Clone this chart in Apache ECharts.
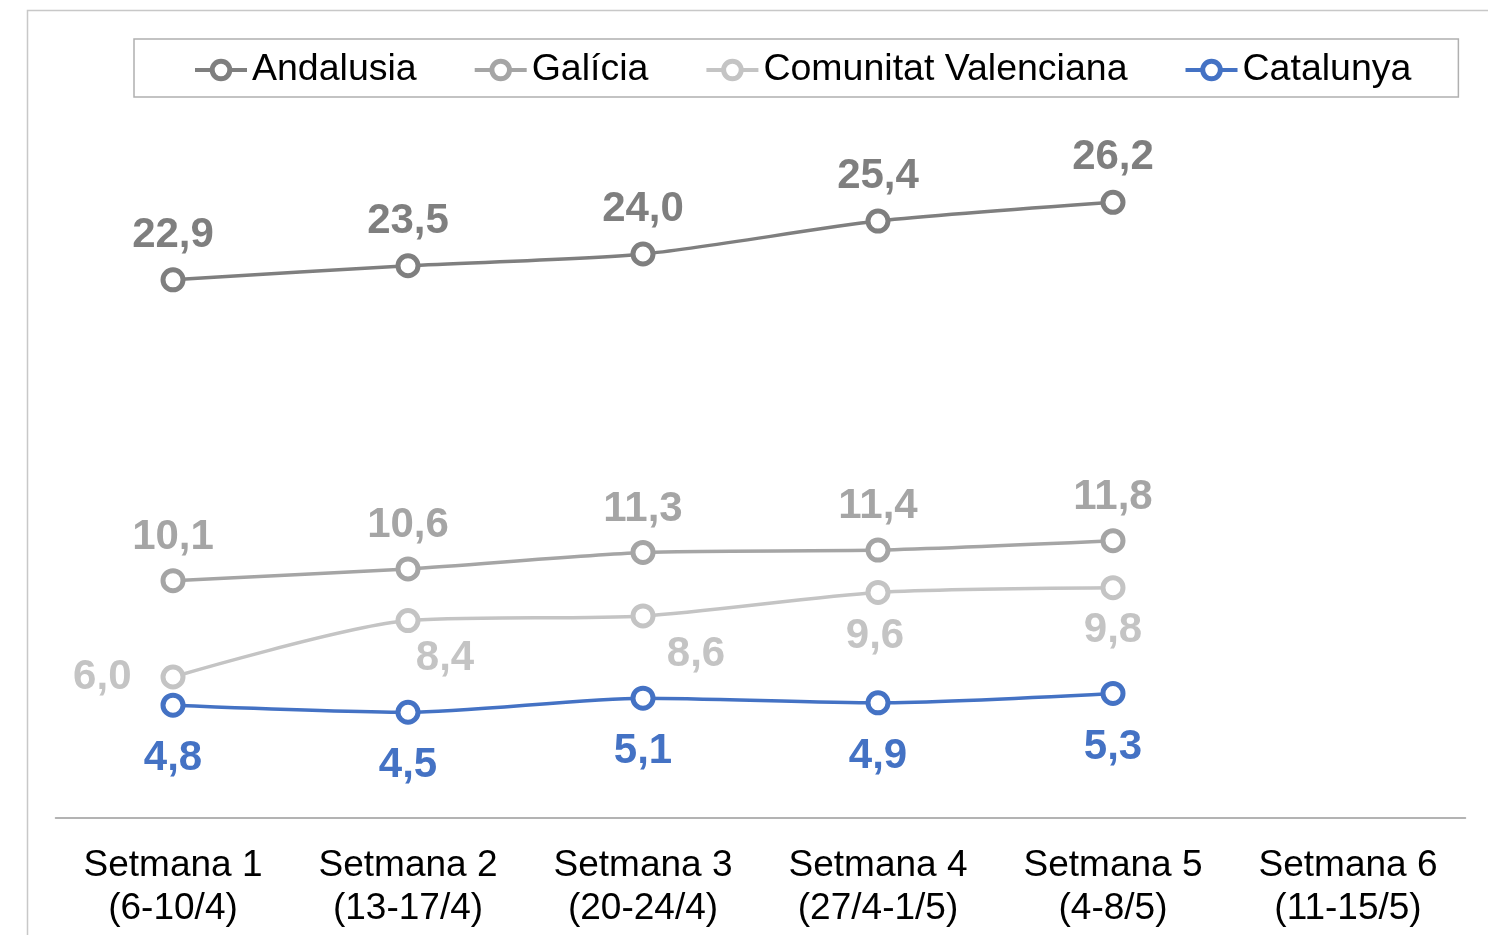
<!DOCTYPE html>
<html><head><meta charset="utf-8">
<script src="https://cdn.jsdelivr.net/npm/echarts@6/dist/echarts.min.js"></script>
<style>html,body{margin:0;padding:0;background:#fff}#c{width:1488px;height:935px}</style>
</head><body><div id="c"></div>
<script>
const categories = ['Setmana 1\n(6-10/4)','Setmana 2\n(13-17/4)','Setmana 3\n(20-24/4)','Setmana 4\n(27/4-1/5)','Setmana 5\n(4-8/5)','Setmana 6\n(11-15/5)'];
const andalusia = [22.9, 23.5, 24.0, 25.4, 26.2, null];
const galicia = [10.1, 10.6, 11.3, 11.4, 11.8, null];
const valenciana = [6.0, 8.4, 8.6, 9.6, 9.8, null];
const catalunya = [4.8, 4.5, 5.1, 4.9, 5.3, null];

const FONT = 'Liberation Sans, Arial, sans-serif';
const fmt = p => p.value == null ? '' : p.value.toFixed(1).replace('.', ',');
function mk(name, data, color, labelColor, pos, dist) {
  return {
    name, type: 'line', data, smooth: 0.25, connectNulls: false,
    symbol: 'circle', symbolSize: 20,
    lineStyle: {color, width: 3.5},
    itemStyle: {color: '#ffffff', borderColor: color, borderWidth: 5},
    label: {show: true, position: pos, distance: dist, formatter: fmt,
      color: labelColor, fontFamily: FONT, fontWeight: 'bold', fontSize: 42, lineHeight: 42},
    emphasis: {disabled: true}
  };
}
const sVal = mk('Comunitat Valenciana', valenciana.map((v, i) => {
  const lab = [
    {position: 'left', distance: 29},
    {position: 'bottom', distance: 4, offset: [37, 0]},
    {position: 'bottom', distance: 5, offset: [53, 0]},
    {position: 'bottom', distance: 11, offset: [-3, 0]},
    {position: 'bottom', distance: 9, offset: [0, 0]},
    {}
  ][i];
  return {value: v, label: lab};
}), '#c4c4c4', '#c4c4c4', 'bottom', 6);

const option = {
  animation: false,
  backgroundColor: '#fff',
  graphic: [{type: 'rect', shape: {x: 27.5, y: 10.5, width: 1600, height: 1000},
    style: {fill: 'none', stroke: '#c8c8c8', lineWidth: 1.5}, silent: true}],
  legend: {
    left: 134, top: 39, padding: [12, 47, 8, 59],
    borderColor: '#b0b0b0', borderWidth: 1.5,
    itemWidth: 52, itemHeight: 22, itemGap: 56,
    itemStyle: {borderWidth: 5},
    lineStyle: {width: 4},
    textStyle: {fontFamily: FONT, fontSize: 37.5, lineHeight: 36, color: '#000'},
    data: ['Andalusia', 'Galícia', 'Comunitat Valenciana', 'Catalunya']
  },
  grid: {left: 55.5, right: 22.5, top: 113, bottom: 117, containLabel: false},
  xAxis: {
    type: 'category', data: categories, boundaryGap: true,
    axisLine: {lineStyle: {color: '#9a9a9a', width: 1.5}},
    axisTick: {show: false},
    axisLabel: {fontFamily: FONT, fontSize: 37, lineHeight: 43, color: '#000', margin: 26, interval: 0}
  },
  yAxis: {type: 'value', min: 0, max: 30, show: false, splitLine: {show: false}},
  series: [
    mk('Andalusia', andalusia, '#7f7f7f', '#7f7f7f', 'top', 11),
    mk('Galícia', galicia, '#a5a5a5', '#a5a5a5', 'top', 10),
    sVal,
    mk('Catalunya', catalunya, '#4472c4', '#4472c4', 'bottom', 20)
  ]
};
echarts.init(document.getElementById('c')).setOption(option);
</script></body></html>
